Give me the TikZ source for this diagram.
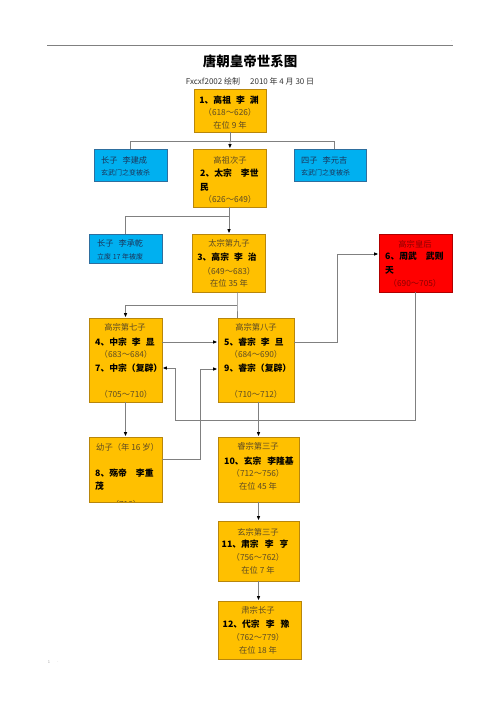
\documentclass[tikz,border=0pt]{standalone}
\usepackage{fontspec}
\setmainfont{Noto Sans CJK SC}
\usetikzlibrary{arrows.meta,fit}
\definecolor{orangef}{HTML}{FFC000}
\definecolor{oborder}{HTML}{B8860B}
\definecolor{bluef}{HTML}{00B0F0}
\definecolor{bborder}{HTML}{2E6E9E}
\definecolor{redf}{HTML}{FF0000}
\definecolor{rborder}{HTML}{B00000}
\definecolor{otext}{HTML}{5E4B24}
\definecolor{btext}{HTML}{1B365C}
\definecolor{rtext}{HTML}{8C0000}
\definecolor{linec}{HTML}{808080}
\tikzset{
  obox/.style={draw=oborder, fill=orangef, line width=0.8pt, inner sep=0pt, rectangle},
  bbox/.style={draw=bborder, fill=bluef, line width=0.8pt, inner sep=0pt, rectangle},
  rbox/.style={draw=rborder, fill=redf, line width=0.8pt, inner sep=0pt, rectangle},
  tx/.style={inner sep=0pt, font=\fontsize{8.3}{9}\selectfont, text=otext},
  txb/.style={inner sep=0pt, font=\fontsize{8.8}{10}\selectfont\bfseries, text=black},
  btx/.style={inner sep=0pt, font=\fontsize{8.2}{9}\selectfont, text=btext, anchor=west},
  btxs/.style={inner sep=0pt, font=\fontsize{7}{8}\selectfont, text=btext, anchor=west},
  conn/.style={draw=linec, line width=0.9pt},
  arr/.style={conn, -{Latex[length=4.5pt, width=3.6pt, color=black]}},
}
\begin{document}
\begin{tikzpicture}[x=1pt,y=-1pt]
\useasboundingbox[fill=white] (0,0) rectangle (500,708);

% header rule and page marks
\draw[draw=linec, line width=1pt] (47,46) -- (453,46);
\node[inner sep=0pt, font=\fontsize{4}{4}\selectfont, text=gray] (mk1) at (452,41) {.};
\node[inner sep=0pt, font=\fontsize{4}{4}\selectfont, text=gray!70] (mk2) at (49,662) {1};
\node[inner sep=0pt, font=\fontsize{4}{4}\selectfont, text=gray!70] (mk3) at (58,662) {.};

% title
\node[inner sep=0pt, font=\fontsize{13.5}{15}\selectfont\bfseries] (title) at (250,61) {唐朝皇帝世系图};
\node[inner sep=0pt, font=\fontsize{8}{9}\selectfont, text=black!80] (sub) at (250,81) {Fxcxf2002 绘制\hspace{10pt}2010 年 4 月 30 日};

% boxes
\node[obox, fit={(194,89) (266,132)}] (b1) {};
\node[obox, fit={(193,149) (266,207)}] (b2) {};
\node[bbox, fit={(94,149) (167,181)}] (bl1) {};
\node[bbox, fit={(294,149) (366,181)}] (br1) {};
\node[bbox, fit={(89,234) (162,263)}] (bl2) {};
\node[obox, fit={(192,234) (265,292)}] (b3) {};
\node[rbox, fit={(379,234) (452,292)}] (r) {};
\node[obox, fit={(89,318) (162,402)}] (b4) {};
\node[obox, fit={(218,318) (294,402)}] (b5) {};
\node[obox, fit={(89,437) (162,502)}] (b8) {};
\node[obox, fit={(218,437) (299,502)}] (b10) {};
\node[obox, fit={(218,521) (299,581)}] (b11) {};
\node[obox, fit={(218,601) (301,659)}] (b12) {};

% box 1
\node[txb] (b1a) at (229,100) {1、高祖\hspace{5pt}李\hspace{5pt}渊};
\node[tx] (b1b) at (230,112.5) {（618～626）};
\node[tx] (b1c) at (230,125) {在位 9 年};
% box 2
\node[tx] (b2a) at (230,160) {高祖次子};
\node[txb, anchor=west] (b2b) at (200,173) {2、太宗\hspace{9pt}李世};
\node[txb, anchor=west] (b2c) at (200,187) {民};
\node[tx] (b2d) at (230,199) {（626～649）};
% blue boxes
\node[btx] (bl1a) at (101,160) {长子\hspace{5pt}李建成};
\node[btxs] (bl1b) at (101,173) {玄武门之变被杀};
\node[btx] (br1a) at (301,160) {四子\hspace{5pt}李元吉};
\node[btxs] (br1b) at (301,173) {玄武门之变被杀};
\node[btx] (bl2a) at (97,243) {长子\hspace{5pt}李承乾};
\node[btxs] (bl2b) at (97,257) {立废 17 年被废};
% box 3
\node[tx] (b3a) at (229,243) {太宗第九子};
\node[txb] (b3b) at (227,257) {3、高宗\hspace{5pt}李\hspace{5pt}治};
\node[tx] (b3c) at (229,271) {（649～683）};
\node[tx] (b3d) at (229,283) {在位 35 年};
% red box
\node[tx, text=rtext] (ra) at (415,244) {高宗皇后};
\node[txb, anchor=west] (rb) at (385,256) {6、周武\hspace{9pt}武则};
\node[txb, anchor=west] (rc) at (385,270) {天};
\node[tx, text=rtext] (rd) at (415,283) {（690～705）};
% box 4
\node[tx] (b4a) at (125,327) {高宗第七子};
\node[txb, anchor=west] (b4b) at (95,342) {4、中宗\hspace{5pt}李\hspace{5pt}显};
\node[tx] (b4c) at (126,354) {（683～684）};
\node[txb, anchor=west] (b4d) at (95,368) {7、中宗（复辟）};
\node[tx] (b4e) at (126,394) {（705～710）};
% box 5
\node[tx] (b5a) at (256,327) {高宗第八子};
\node[txb, anchor=west] (b5b) at (224,342) {5、睿宗\hspace{5pt}李\hspace{5pt}旦};
\node[tx] (b5c) at (256,354) {（684～690）};
\node[txb, anchor=west] (b5d) at (224,368) {9、睿宗（复辟）};
\node[tx] (b5e) at (256,394) {（710～712）};
% box 8
\node[tx, anchor=west] (b8a) at (96,447) {幼子（年 16 岁）};
\node[txb, anchor=west] (b8b) at (95,473) {8、殇帝\hspace{9pt}李重};
\node[txb, anchor=west] (b8c) at (95,486) {茂};
\begin{scope}
  \clip (89,437) rectangle (162,501.5);
  \node[tx] (b8d) at (126,504) {（710）};
\end{scope}
% box 10
\node[tx] (b10a) at (258,446) {睿宗第三子};
\node[txb] (b10b) at (259,461) {10、玄宗\hspace{6pt}李隆基};
\node[tx] (b10c) at (258,473) {（712～756）};
\node[tx] (b10d) at (258,486) {在位 45 年};
% box 11
\node[tx] (b11a) at (258,532) {玄宗第三子};
\node[txb] (b11b) at (255,544) {11、肃宗\hspace{6pt}李\hspace{6pt}亨};
\node[tx] (b11c) at (258,557) {（756～762）};
\node[tx] (b11d) at (258,570) {在位 7 年};
% box 12
\node[tx] (b12a) at (258,610) {肃宗长子};
\node[txb] (b12b) at (256,624) {12、代宗\hspace{6pt}李\hspace{6pt}豫};
\node[tx] (b12c) at (258,637) {（762～779）};
\node[tx] (b12d) at (258,650) {在位 18 年};

% junction coordinates
\coordinate (j1) at (230,141);
\coordinate (j2) at (229,216);
\coordinate (j3) at (237,305);
\coordinate (p1) at (337,254);
\coordinate (p2) at (175,420);
\coordinate (p4) at (200,459);
\coordinate (p5) at (200,369);

% connectors
\draw[conn] (b1) -- (j1);
\draw[conn] (j1) -| (bl1);
\draw[conn] (j1) -| ([xshift=4pt]br1.north);
\draw[arr] (j1) -- (b2);
\draw[conn] (b2.south -| j2) -- (j2);
\draw[conn] (j2) -| (bl2);
\draw[arr] (j2) -- (j2 |- b3.north);
\draw[conn] (b3.south -| j3) -- (j3) -- (j3 |- b5.north);
\draw[arr] (j3) -| (b4);
\draw[arr] (b4.east |- b4b) -- (b5.west |- b4b);
\draw[arr] (b5.east |- b5b) -| (p1) -- (r.west |- p1);
\draw[arr] (r.south) |- (p2) |- (b4.east |- b4d);
\draw[arr] (b8.east |- p4) -- (p4) -- (p5) -- (b5.west |- p5);
\draw[arr] (b4) -- (b8);
\draw[arr] (b5.south -| b10.north) -- (b10.north);
\draw[arr] (b10) -- (b11);
\draw[arr] (b11.south) -- (b11.south |- b12.north);
\end{tikzpicture}
\end{document}
